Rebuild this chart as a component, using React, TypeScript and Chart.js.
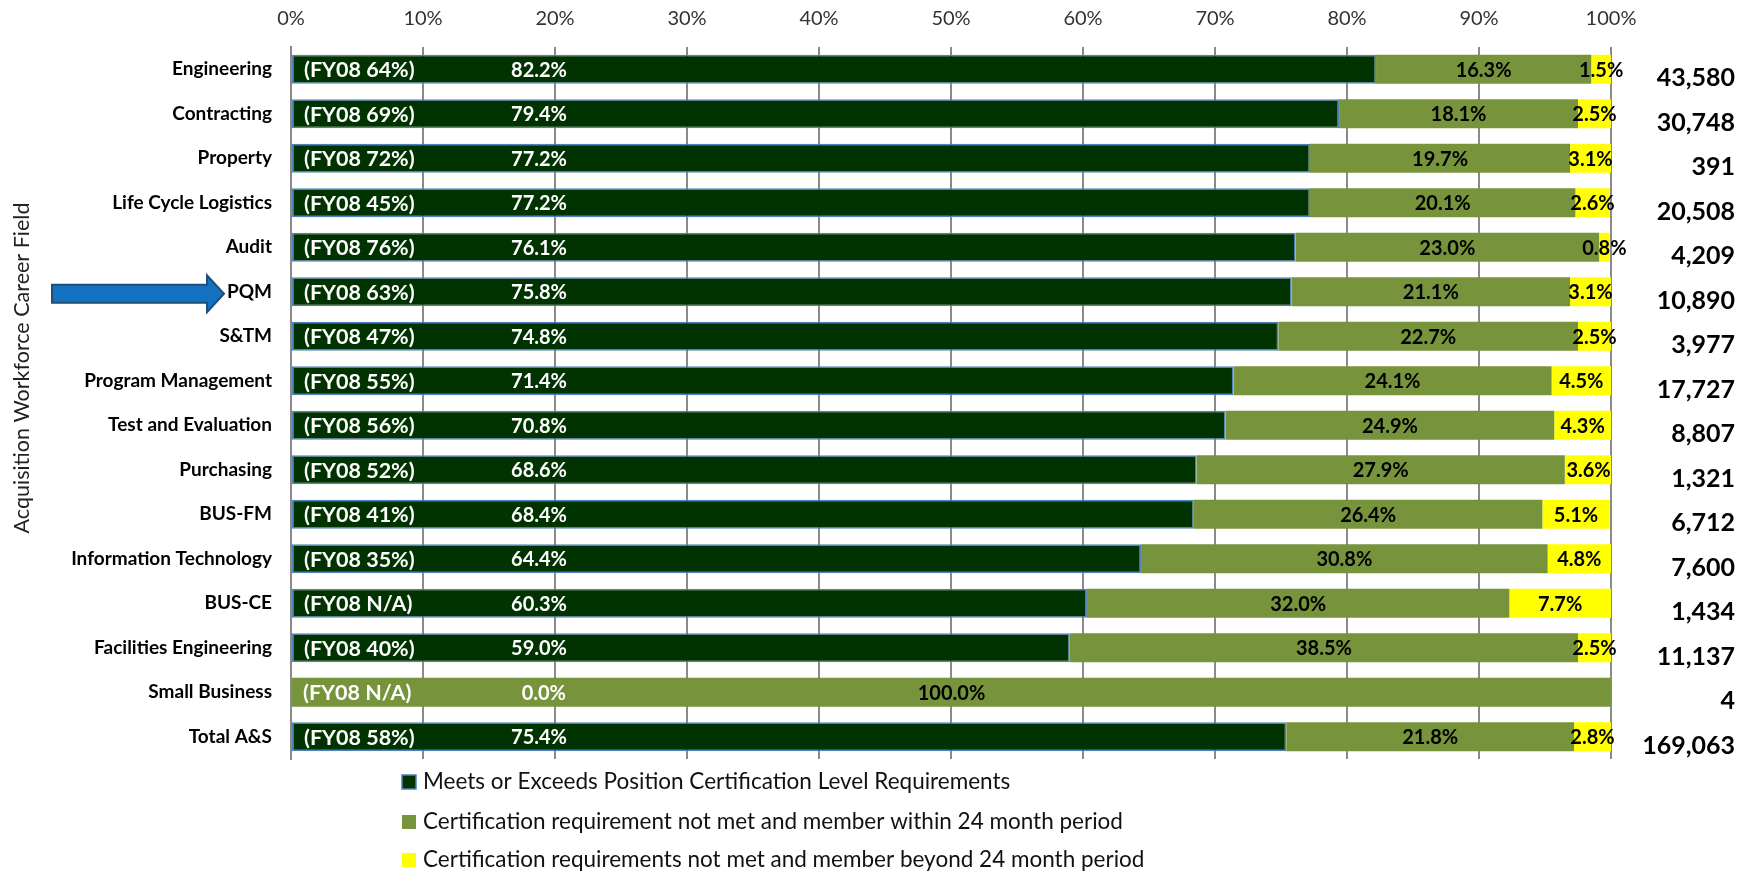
import React, { useEffect, useRef } from 'react';
import { Chart, registerables } from 'chart.js';

Chart.register(...registerables);

const categories = [
  'Engineering', 'Contracting', 'Property', 'Life Cycle Logistics', 'Audit', 'PQM', 'S&TM',
  'Program Management', 'Test and Evaluation', 'Purchasing', 'BUS-FM', 'Information Technology',
  'BUS-CE', 'Facilities Engineering', 'Small Business', 'Total A&S',
];
const meets = [82.2, 79.4, 77.2, 77.2, 76.1, 75.8, 74.8, 71.4, 70.8, 68.6, 68.4, 64.4, 60.3, 59.0, 0.0, 75.4];
const within = [16.3, 18.1, 19.7, 20.1, 23.0, 21.1, 22.7, 24.1, 24.9, 27.9, 26.4, 30.8, 32.0, 38.5, 100.0, 21.8];
const beyond = [1.5, 2.5, 3.1, 2.6, 0.8, 3.1, 2.5, 4.5, 4.3, 3.6, 5.1, 4.8, 7.7, 2.5, 0.0, 2.8];
const fy08 = ['64%', '69%', '72%', '45%', '76%', '63%', '47%', '55%', '56%', '52%', '41%', '35%', 'N/A', '40%', 'N/A', '58%'];
const totals = ['43,580', '30,748', '391', '20,508', '4,209', '10,890', '3,977', '17,727', '8,807', '1,321', '6,712', '7,600', '1,434', '11,137', '4', '169,063'];
const seriesNames = [
  'Meets or Exceeds Position Certification Level Requirements',
  'Certification requirement not met and member within 24 month period',
  'Certification requirements not met and member beyond 24 month period',
];
const axisTitle = 'Acquisition Workforce Career Field';
const highlighted = 'PQM';

const FONT = 'Lato, "Noto Sans", sans-serif';
const DARK = '#013300';
const GREEN = '#77933C';
const YELLOW = '#FFFF00';
const EDGE = '#4F81BD';

const overlay = {
  id: 'overlay',
  afterDatasetsDraw(chart: any) {
    const ctx = chart.ctx;
    const m0 = chart.getDatasetMeta(0);
    const m1 = chart.getDatasetMeta(1);
    const m2 = chart.getDatasetMeta(2);
    ctx.save();
    ctx.textBaseline = 'middle';
    categories.forEach((_, i) => {
      const b0 = m0.data[i];
      const base = b0.base;
      const y = b0.y;
      ctx.fillStyle = '#ffffff';
      ctx.textAlign = 'left';
      ctx.font = `bold 21.5px ${FONT}`;
      ctx.fillText(`(FY08 ${fy08[i]})`, base + 12, y + 1);
      ctx.font = `bold 20px ${FONT}`;
      ctx.textAlign = 'right';
      ctx.fillText(`${meets[i].toFixed(1)}%`, base + 275, y + 1);
      ctx.fillStyle = '#000000';
      ctx.textAlign = 'center';
      const b1 = m1.data[i];
      if (within[i] > 0) ctx.fillText(`${within[i].toFixed(1)}%`, (b1.x + b1.base) / 2, y + 1);
      const b2 = m2.data[i];
      if (beyond[i] > 0) ctx.fillText(`${beyond[i].toFixed(1)}%`, (b2.x + b2.base) / 2, y + 1);
      ctx.font = `bold 25px ${FONT}`;
      ctx.textAlign = 'right';
      ctx.fillText(totals[i], 1735, y + 9);
    });
    ctx.restore();
  },
  afterDraw(chart: any) {
    const ctx = chart.ctx;
    ctx.save();
    // axis title
    ctx.translate(22, 368);
    ctx.rotate(-Math.PI / 2);
    ctx.font = `21.5px ${FONT}`;
    ctx.fillStyle = '#222222';
    ctx.textAlign = 'center';
    ctx.textBaseline = 'middle';
    ctx.fillText(axisTitle, 0, 0);
    ctx.restore();

    // arrow pointing at highlighted category
    const idx = categories.indexOf(highlighted);
    const cy = chart.getDatasetMeta(0).data[idx].y + 2;
    ctx.save();
    ctx.beginPath();
    ctx.moveTo(52, cy - 9);
    ctx.lineTo(207, cy - 9);
    ctx.lineTo(207, cy - 18.5);
    ctx.lineTo(224, cy);
    ctx.lineTo(207, cy + 18.5);
    ctx.lineTo(207, cy + 9);
    ctx.lineTo(52, cy + 9);
    ctx.closePath();
    ctx.fillStyle = '#1470C0';
    ctx.fill();
    ctx.lineWidth = 2;
    ctx.strokeStyle = '#1F4E79';
    ctx.stroke();
    ctx.restore();

    // legend
    const rows = [782, 822, 860];
    ctx.save();
    ctx.font = `22.5px ${FONT}`;
    ctx.textBaseline = 'middle';
    ctx.textAlign = 'left';
    chart.data.datasets.forEach((ds: any, i: number) => {
      const y = rows[i];
      ctx.fillStyle = ds.backgroundColor;
      ctx.fillRect(402, y - 7, 14, 14);
      if (i === 0) {
        ctx.lineWidth = 1.5;
        ctx.strokeStyle = EDGE;
        ctx.strokeRect(402, y - 7, 14, 14);
      }
      ctx.fillStyle = '#111111';
      ctx.fillText(ds.label, 423, y);
    });
    ctx.restore();
  },
};

export default function App() {
  const ref = useRef<HTMLCanvasElement>(null);
  useEffect(() => {
    if (!ref.current) return;
    const chart = new Chart(ref.current, {
      type: 'bar',
      data: {
        labels: categories,
        datasets: [
          { label: seriesNames[0], data: meets, backgroundColor: DARK, borderColor: EDGE, borderWidth: 1.5, borderSkipped: false },
          { label: seriesNames[1], data: within, backgroundColor: GREEN, borderWidth: 0 },
          { label: seriesNames[2], data: beyond, backgroundColor: YELLOW, borderWidth: 0 },
        ],
      },
      options: {
        indexAxis: 'y',
        animation: false,
        responsive: true,
        maintainAspectRatio: false,
        layout: { padding: { left: 0, right: 147, top: 7, bottom: 115 } },
        datasets: { bar: { categoryPercentage: 1, barPercentage: 0.65 } },
        plugins: { legend: { display: false }, tooltip: { enabled: false } },
        scales: {
          x: {
            position: 'top',
            stacked: true,
            min: 0,
            max: 100,
            ticks: {
              stepSize: 10,
              padding: 16,
              color: '#333333',
              font: { family: FONT, size: 20 },
              callback: (v: any) => `${v}%`,
            },
            grid: { color: '#8A8A8A', lineWidth: 2, drawTicks: false },
            border: { display: false },
            afterFit: (s: any) => { s.height = 40; },
          },
          y: {
            stacked: true,
            ticks: { padding: 11, color: '#000000', font: { family: FONT, size: 19, weight: 'bold' } },
            grid: { display: false },
            border: { display: true, color: '#8A8A8A', width: 2 },
            afterFit: (s: any) => { s.width = 291; },
          },
        },
      },
      plugins: [overlay],
    });
    return () => chart.destroy();
  }, []);
  return (
    <div style={{ position: 'absolute', left: 0, top: 0, width: 1758, height: 874, background: '#fff' }}>
      <canvas ref={ref} />
    </div>
  );
}
